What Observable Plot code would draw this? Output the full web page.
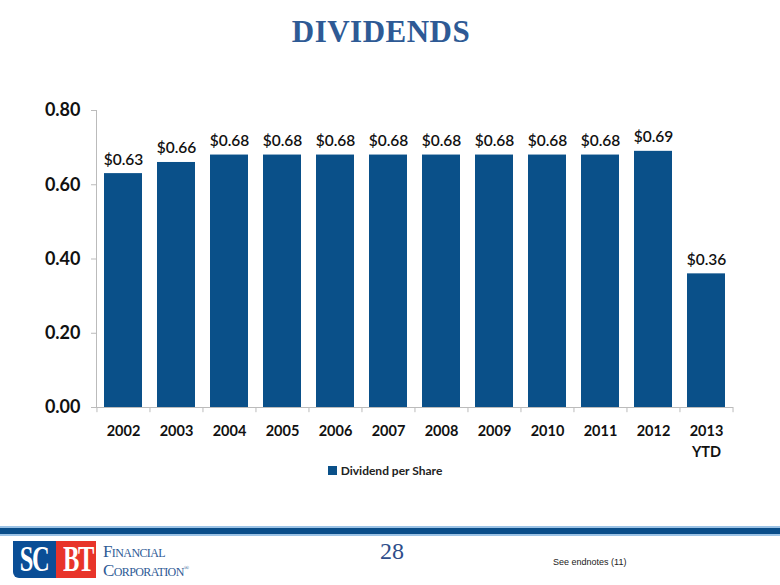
<!DOCTYPE html>
<html><head><meta charset="utf-8">
<script src="https://cdn.jsdelivr.net/npm/d3@7"></script>
<script src="https://cdn.jsdelivr.net/npm/@observablehq/plot@0.6"></script>
<style>
body{margin:0;background:#fff;}
#page{position:relative;width:780px;height:585px;overflow:hidden;background:#fff;}
#title{position:absolute;top:14px;left:0;width:762px;text-align:center;font-family:"Liberation Serif","DejaVu Serif",serif;font-weight:bold;font-size:31px;color:#2e5a95;letter-spacing:0.5px;}
#chart{position:absolute;top:90px;left:0;}
#legend{position:absolute;top:463px;left:0;width:770px;text-align:center;font-family:Lato,"Open Sans",sans-serif;font-weight:bold;font-size:12px;color:#222;}
#legend span.sw{display:inline-block;width:9px;height:9px;background:#0a5089;margin-right:4px;}
.line1{position:absolute;left:0;width:780px;}
#pg{position:absolute;top:538px;left:367px;width:50px;text-align:center;font-family:"Liberation Serif",serif;font-size:24px;color:#2e4d8a;}
#notes{position:absolute;top:557px;left:553px;font-family:"Liberation Sans",Arial,sans-serif;font-size:9px;color:#222;}
.blk{position:absolute;top:541px;height:37px;color:#fff;font-family:"Liberation Serif",serif;font-weight:bold;font-size:36px;line-height:37px;text-align:center;}
.blk span{display:inline-block;transform:scaleX(0.68);transform-origin:center;letter-spacing:-2px;}
#lb{left:13px;width:43px;background:#0a4e96;border-radius:0 0 0 6px;}
#lr{left:56px;width:40px;background:#e8342a;}
#corp{position:absolute;top:544px;left:103px;font-family:"Liberation Serif",serif;color:#2e5a95;font-size:17px;line-height:16px;font-variant:small-caps;letter-spacing:-0.6px;}
#corp div{height:16px;}
</style></head>
<body><div id="page">
<div id="title">DIVIDENDS</div>
<div id="chart"></div>
<div id="legend"><span class="sw"></span>Dividend per Share</div>
<div class="line1" style="top:526px;height:2px;background:#9cc3e6"></div>
<div class="line1" style="top:528px;height:6px;background:#0a4e8a"></div>
<div class="line1" style="top:534px;height:2px;background:#9cc3e6"></div>
<div class="blk" id="lb"><span>SC</span></div>
<div class="blk" id="lr"><span>BT</span></div>
<div id="corp"><div>Financial</div><div>Corporation<span style="font-size:7px;vertical-align:6px">®</span></div></div>
<div id="pg">28</div>
<div id="notes">See endnotes (11)</div>
</div>
<script>
const years = ["2002","2003","2004","2005","2006","2007","2008","2009","2010","2011","2012","2013\nYTD"];
const dividends = [0.63,0.66,0.68,0.68,0.68,0.68,0.68,0.68,0.68,0.68,0.69,0.36];
const yTicks = [0,0.2,0.4,0.6,0.8];
const labels = ["$0.63","$0.66","$0.68","$0.68","$0.68","$0.68","$0.68","$0.68","$0.68","$0.68","$0.69","$0.36"];
const data = years.map((y,i)=>({year:y,value:dividends[i],label:labels[i]}));

const W = 780, ML = 96, MR = 47;
const step = (W - ML - MR) / years.length;

const plot = Plot.plot({
  width:W, height:372,
  marginTop:20, marginBottom:55, marginLeft:ML, marginRight:MR,
  style:{fontFamily:"Lato, 'Open Sans', sans-serif", color:"#222", background:"transparent"},
  x:{domain:years, paddingInner:0.28, paddingOuter:0.14, align:0.5, label:null},
  y:{domain:[0,0.8], label:null},
  marks:[
    Plot.barY(data,{x:"year",y:"value",fill:"#0a5089"}),
    Plot.ruleY([0],{stroke:"#bbb"}),
    Plot.frame({anchor:"left", stroke:"#bbb"}),
    Plot.ruleX(years,{x:d=>d, y1:0, y2:-0.014, dx:-step/2, stroke:"#bbb"}),
    Plot.ruleX([years[years.length-1]],{x:d=>d, y1:0, y2:-0.014, dx:step/2, stroke:"#bbb"}),
    Plot.axisY(yTicks,{tickFormat:d3.format(".2f"), tickSize:5, tickPadding:11, stroke:"#bbb", fontSize:18, fontWeight:"bold", fill:"#111"}),
    Plot.axisX({tickSize:0, tickPadding:14, fontSize:14.5, fontWeight:"bold", fill:"#111", lineHeight:1.45}),
    Plot.text(data,{x:"year",y:"value",text:"label",lineAnchor:"bottom",dy:-9,fontSize:15.5,fontWeight:600,fill:"#111"})
  ]
});
document.getElementById("chart").appendChild(plot);
</script>
</body></html>
